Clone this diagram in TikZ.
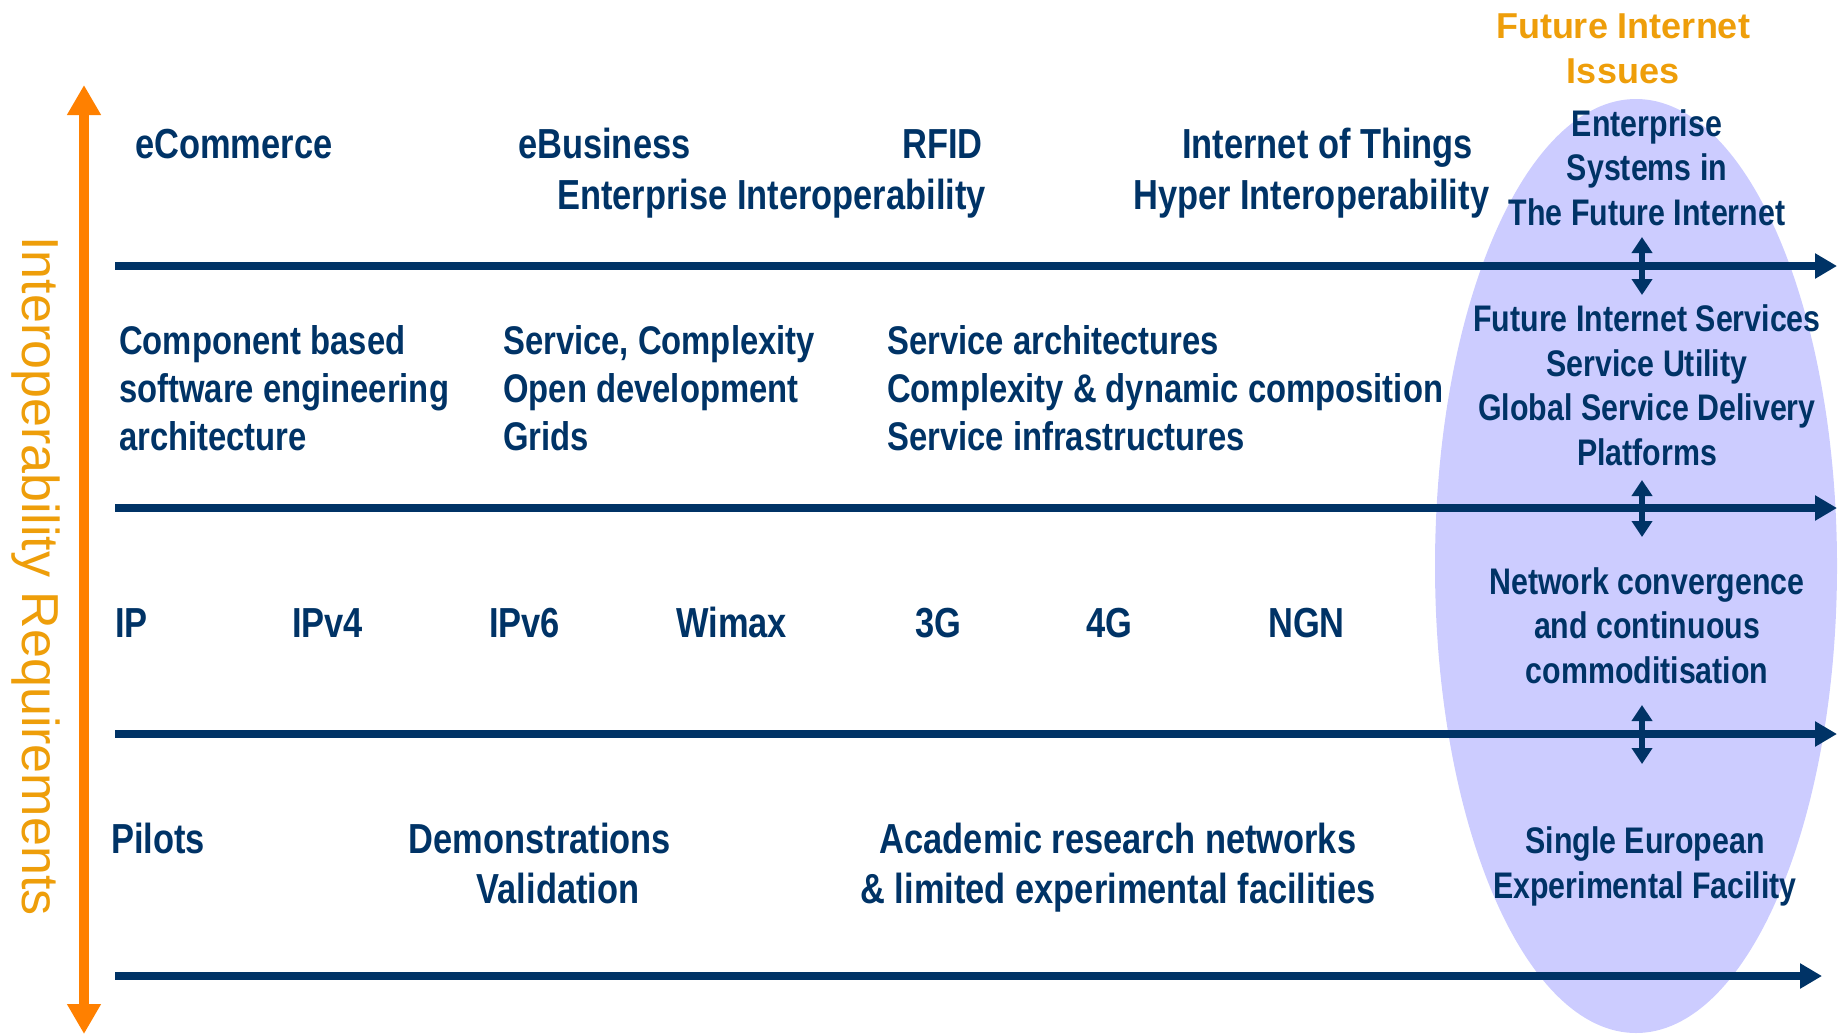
\documentclass[tikz,border=0pt]{standalone}
\usepackage{fontspec}
\usepackage{xcolor}
\usetikzlibrary{positioning}
\usetikzlibrary{arrows.meta}
\newfontfamily\narrowfont[FakeStretch=0.82]{Liberation Sans}
\newfontfamily\plainfont{Liberation Sans}
\definecolor{navy}{RGB}{0,51,102}
\definecolor{amber}{RGB}{238,158,10}
\definecolor{axisorange}{RGB}{255,128,0}
\definecolor{lavender}{RGB}{204,204,255}
\tikzset{mytext/.style={inner sep=0pt, text=navy, anchor=base west,
font=\narrowfont\bfseries\fontsize{42}{50}\selectfont},
mymid/.style={mytext, align=left, font=\narrowfont\bfseries\fontsize{40}{48}\selectfont},
myoval/.style={mytext, align=center, anchor=base, font=\narrowfont\bfseries\fontsize{37}{44.5}\selectfont},
timeline/.style={draw=navy, line width=8pt, -{Triangle[length=22pt,width=24pt]}},
linkarrow/.style={draw=navy, line width=6pt, {Triangle[length=16pt,width=20pt]}-{Triangle[length=16pt,width=20pt]}}}

\begin{document}
\begin{tikzpicture}[x=1pt, y=-1pt, axis/.style={draw=axisorange, line width=10pt, {Triangle[length=30pt,width=32pt]}-{Triangle[length=30pt,width=32pt]}}]
	\useasboundingbox (0,0) rectangle (1843,1034);
	\fill[lavender] (1636,566) ellipse [x radius=201pt, y radius=467pt];

	% axis
	\coordinate (axtop) at (84,85);
	\coordinate (axbot) at (84,1034);
	\draw[axis] (axbot) -- (axtop);
	\node(req) [inner sep=0pt, anchor=base, rotate=-90, text=amber, font=\plainfont\fontsize{52}{62}\selectfont] at (22,576) {Interoperability Requirements};

	% time lines
	\coordinate (s1) at (115,266); \coordinate (e1) at (1837,266);
	\coordinate (s2) at (115,508); \coordinate (e2) at (1837,508);
	\coordinate (s3) at (115,734); \coordinate (e3) at (1837,734);
	\coordinate (s4) at (115,976); \coordinate (e4) at (1822,976);
	\draw[timeline] (s1) -- (e1);
	\draw[timeline] (s2) -- (e2);
	\draw[timeline] (s3) -- (e3);
	\draw[timeline] (s4) -- (e4);

	% applications
	\node(ecom) [mytext] at (135,158) {eCommerce};
	\node(ebus) [mytext] at (518,158) {eBusiness};
	\node(rfid) [mytext] at (902,158) {RFID};
	\node(iot) [mytext] at (1182,158) {Internet of Things};
	\node(entint) [mytext] at (557,209) {Enterprise Interoperability};
	\node(hyper) [mytext] at (1133,209) {Hyper Interoperability};

	% software (base = last line)
	\node(cbse) [mymid] at (119,450) {Component based\\software engineering\\architecture};
	\node(scomp) [mymid] at (503,450) {Service, Complexity\\Open development\\Grids};
	\node(sarch) [mymid] at (887,450) {Service architectures\\Complexity \& dynamic composition\\Service infrastructures};

	% networks
	\node(ip) [mytext] at (115,637) {IP};
	\node(ipv4) [mytext] at (292,637) {IPv4};
	\node(ipv6) [mytext] at (489,637) {IPv6};
	\node(wimax) [mytext] at (676,637) {Wimax};
	\node(g3) [mytext] at (915,637) {3G};
	\node(g4) [mytext] at (1086,637) {4G};
	\node(ngn) [mytext] at (1268,637) {NGN};

	% testbeds
	\node(pilots) [mytext] at (111,853) {Pilots};
	\node(demo) [mytext, anchor=base] at (540,853) {Demonstrations};
	\node(valid) [mytext, anchor=base] at (558,903) {Validation};
	\node(acad) [mytext, align=center, anchor=base] at (1118,903) {Academic research networks\\\& limited experimental facilities};

	% future internet
	\node(fiissues) [inner sep=0pt, anchor=base, align=center, text=amber, font=\plainfont\bfseries\fontsize{36}{45}\selectfont] at (1623,83) {Future Internet\\Issues};
	\node(esfi) [myoval] at (1647,225) {Enterprise\\Systems in\\The Future Internet};
	\node(fis) [myoval] at (1647,465) {Future Internet Services\\Service Utility\\Global Service Delivery\\Platforms};
	\node(netconv) [myoval] at (1647,683) {Network convergence\\and continuous\\commoditisation};
	\node(sefx) [myoval] at (1645,898) {Single European\\Experimental Facility};

	\coordinate (l1a) at (1642,237); \coordinate (l1b) at (1642,295);
	\coordinate (l2a) at (1642,480); \coordinate (l2b) at (1642,537);
	\coordinate (l3a) at (1642,705); \coordinate (l3b) at (1642,764);
	\draw[linkarrow] (l1a) -- (l1b);
	\draw[linkarrow] (l2a) -- (l2b);
	\draw[linkarrow] (l3a) -- (l3b);
\end{tikzpicture}
\end{document}
